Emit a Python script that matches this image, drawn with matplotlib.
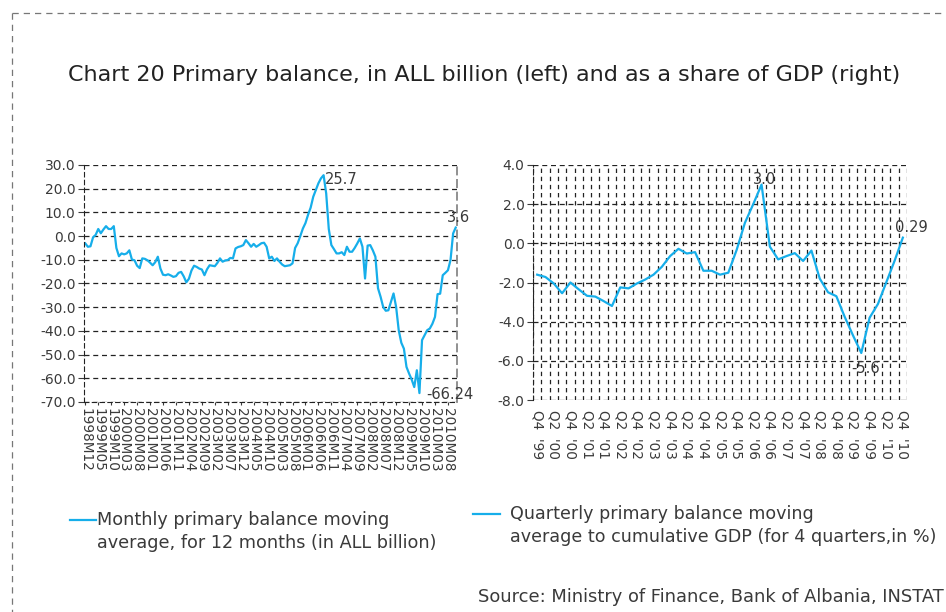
import matplotlib
matplotlib.use("Agg")
import matplotlib.pyplot as plt
from matplotlib.lines import Line2D
import numpy as np

plt.rcParams['font.family'] = ['DejaVu Sans']

# ---------------- data ----------------
monthly_values = [
    -3.1, -4.5, -4.3, -0.5, 0.5, 3.0, 1.2, 2.8, 4.2, 3.0,
    3.0, 4.2, -5.0, -8.5, -7.3, -7.7, -7.3, -6.0, -9.9, -10.2,
    -12.5, -13.5, -9.4, -9.6, -10.2, -11.2, -12.3, -11.0, -8.7, -13.7,
    -16.3, -16.5, -16.1, -16.6, -17.2, -16.9, -15.5, -15.1, -17.0, -19.5,
    -18.0, -14.5, -12.5, -13.0, -13.7, -14.1, -16.5, -14.0, -12.3, -12.5,
    -12.7, -11.3, -9.4, -10.8, -10.3, -10.1, -9.2, -9.4, -5.2, -4.6,
    -4.3, -3.8, -1.7, -3.0, -4.5, -3.3, -4.5, -3.8, -3.0, -2.8,
    -4.5, -9.4, -8.7, -10.5, -9.4, -10.8, -12.0, -12.7, -12.5, -12.3,
    -11.5, -5.0, -3.0, 0.0, 3.2, 5.5, 9.0, 12.0, 16.6, 19.5,
    22.3, 24.4, 25.7, 18.0, 3.0, -3.8, -5.5, -7.3, -7.3, -6.8,
    -8.0, -4.5, -6.6, -6.6, -5.0, -3.1, -1.0, -4.5, -17.9, -4.0,
    -3.8, -6.0, -8.7, -22.0, -25.6, -29.9, -31.5, -31.3, -27.7, -24.2,
    -29.9, -39.7, -45.0, -47.5, -55.2, -58.0, -60.5, -63.7, -56.6, -66.24,
    -43.9, -41.8, -39.7, -39.0, -37.0, -34.1, -24.5, -24.3, -16.5, -15.5,
    -14.4, -10.1, 1.1, 3.6,
]
month_start_year, month_start_month = 1998, 12
monthly_yticks = [30, 20, 10, 0, -10, -20, -30, -40, -50, -60, -70]

quarterly_values = [
    -1.6, -1.72, -2.05, -2.55, -2.0, -2.35, -2.68, -2.72, -2.95, -3.2,
    -2.25, -2.3, -2.05, -1.85, -1.6, -1.2, -0.65, -0.28, -0.52, -0.45,
    -1.4, -1.4, -1.6, -1.5, -0.34, 1.05, 2.0, 3.0, -0.17, -0.82,
    -0.65, -0.5, -0.9, -0.37, -1.8, -2.5, -2.7, -3.75, -4.7, -5.6,
    -3.8, -3.1, -2.0, -0.9, 0.29,
]
quarter_start_year, quarter_start_q = 1999, 4
quarterly_yticks = [4, 2, 0, -2, -4, -6, -8]

title = "Chart 20 Primary balance, in ALL billion (left) and as a share of GDP (right)"
legend_left = "Monthly primary balance moving\naverage, for 12 months (in ALL billion)"
legend_right = "Quarterly primary balance moving\naverage to cumulative GDP (for 4 quarters,in %)"
source = "Source: Ministry of Finance, Bank of Albania, INSTAT"

# ------------- labels -------------
month_labels = []
y, m = month_start_year, month_start_month
for _ in range(len(monthly_values)):
    month_labels.append(f"{y}M{m:02d}")
    m += 1
    if m > 12:
        m = 1
        y += 1
quarter_labels = []
y, q = quarter_start_year, quarter_start_q
for _ in range(len(quarterly_values)):
    quarter_labels.append(f"Q{q}  '{y % 100:02d}")
    q += 1
    if q > 4:
        q = 1
        y += 1

LINE = '#16AEEA'
TXT = '#3a3a3a'
W, H = 946, 612
fig = plt.figure(figsize=(W / 100, H / 100), dpi=100)

def fx(px):
    return px / W

def fy(py):
    return 1 - py / H

dash = (0, (4, 3))

# ------------- left axes -------------
axL = fig.add_axes([fx(84), fy(402), fx(457 - 84), (402 - 165) / H])
xm = np.arange(len(monthly_values))
axL.plot(xm, monthly_values, color=LINE, lw=1.6, solid_joinstyle='round')
axL.set_xlim(-0.5, len(monthly_values) - 0.5)
axL.set_ylim(-70, 30)
axL.set_yticks(monthly_yticks)
axL.set_yticklabels([f"{v:.1f}" for v in monthly_yticks])
ticks = list(range(0, len(monthly_values), 5))
axL.set_xticks(ticks)
axL.set_xticklabels([month_labels[i] for i in ticks], rotation=-90, fontsize=9.8,
                    color=TXT)
for v in monthly_yticks:
    axL.axhline(v, color='#222222', lw=0.9, ls=dash, zorder=0)
axL.spines['top'].set_visible(False)
axL.spines['left'].set_linestyle(dash)
axL.spines['left'].set_color('#222222')
axL.spines['bottom'].set_linestyle(dash)
axL.spines['bottom'].set_color('#222222')
axL.spines['right'].set_linestyle(dash)
axL.spines['right'].set_color('#888888')
axL.spines['right'].set_linewidth(1.3)
axL.tick_params(axis='y', labelsize=10, colors=TXT, length=4, width=0.8, pad=2)
axL.tick_params(axis='x', length=2, width=0.8, pad=2, colors=TXT)

imax = int(np.argmax(monthly_values))
imin = int(np.argmin(monthly_values))
iend = len(monthly_values) - 1
axL.annotate(f"{monthly_values[imax]:.1f}", (imax, monthly_values[imax]), xytext=(1, -3),
             textcoords='offset points', ha='left', va='center', fontsize=10.5, color=TXT)
axL.annotate(f"{monthly_values[imin]:.2f}", (imin, monthly_values[imin]), xytext=(5, -1),
             textcoords='offset points', ha='left', va='center', fontsize=10.5, color=TXT)
axL.annotate(f"{monthly_values[iend]:.1f}", (iend, monthly_values[iend]), xytext=(2, 7),
             textcoords='offset points', ha='center', va='center', fontsize=10.5, color=TXT)

# ------------- right axes -------------
axR = fig.add_axes([fx(533), fy(400), fx(907 - 533), (400 - 165) / H])
xq = np.arange(len(quarterly_values))
axR.plot(xq, quarterly_values, color=LINE, lw=1.6, solid_joinstyle='round')
axR.set_xlim(-0.5, len(quarterly_values) - 0.5)
axR.set_ylim(-8, 4)
axR.set_yticks(quarterly_yticks)
axR.set_yticklabels([f"{v:.1f}" for v in quarterly_yticks])
qt = list(range(0, len(quarterly_values), 2))
axR.set_xticks(qt)
axR.set_xticklabels([quarter_labels[i] for i in qt], rotation=-90, fontsize=9.8,
                    color=TXT)
for v in quarterly_yticks:
    axR.axhline(v, color='#222222', lw=0.9, ls=dash, zorder=0)
for b in np.arange(-0.5, len(quarterly_values), 1.0):
    axR.axvline(b, color='#222222', lw=0.9, ls=(0, (3.5, 3)), zorder=0)
for s in ['top', 'right', 'bottom']:
    axR.spines[s].set_visible(False)
axR.spines['left'].set_linestyle(dash)
axR.spines['left'].set_color('#222222')
axR.tick_params(axis='y', labelsize=10, colors=TXT, length=4, width=0.8, pad=2)
axR.tick_params(axis='x', length=0, pad=7, colors=TXT)

jmax = int(np.argmax(quarterly_values))
jmin = int(np.argmin(quarterly_values))
jend = len(quarterly_values) - 1
axR.annotate(f"{quarterly_values[jmax]:.1f}", (jmax, quarterly_values[jmax]), xytext=(2, 4),
             textcoords='offset points', ha='center', va='center', fontsize=10.5, color=TXT)
axR.annotate(f"{quarterly_values[jmin]:.1f}", (jmin, quarterly_values[jmin]), xytext=(3, -11),
             textcoords='offset points', ha='center', va='center', fontsize=10.5, color=TXT)
axR.annotate(f"{quarterly_values[jend]:.2f}", (jend, quarterly_values[jend]), xytext=(6, 7),
             textcoords='offset points', ha='center', va='center', fontsize=10.5, color=TXT)

# ------------- texts & frame -------------
fig.text(fx(484), fy(75), title, ha='center', va='center', fontsize=16, color='#222222')

fig.add_artist(Line2D([fx(70), fx(96)], [fy(520), fy(520)], color=LINE, lw=1.6))
fig.text(fx(97), fy(520), legend_left.split("\n")[0], ha='left', va='center',
         fontsize=12.7, color=TXT)
fig.text(fx(97), fy(543), legend_left.split("\n")[1], ha='left', va='center',
         fontsize=12.7, color=TXT)

fig.add_artist(Line2D([fx(473), fx(500)], [fy(514), fy(514)], color=LINE, lw=1.6))
fig.text(fx(510), fy(514), legend_right.split("\n")[0], ha='left', va='center',
         fontsize=12.6, color=TXT)
fig.text(fx(510), fy(537), legend_right.split("\n")[1], ha='left', va='center',
         fontsize=12.6, color=TXT)

fig.text(fx(944), fy(597), source, ha='right', va='center', fontsize=12.9, color=TXT)

fig.add_artist(Line2D([fx(12), fx(12)], [fy(13), 0], color='#777777', lw=0.9, ls=(0, (5, 4))))
fig.add_artist(Line2D([fx(12), 1], [fy(13), fy(13)], color='#777777', lw=0.9, ls=(0, (5, 4))))

fig.savefig("out.png", dpi=100)
